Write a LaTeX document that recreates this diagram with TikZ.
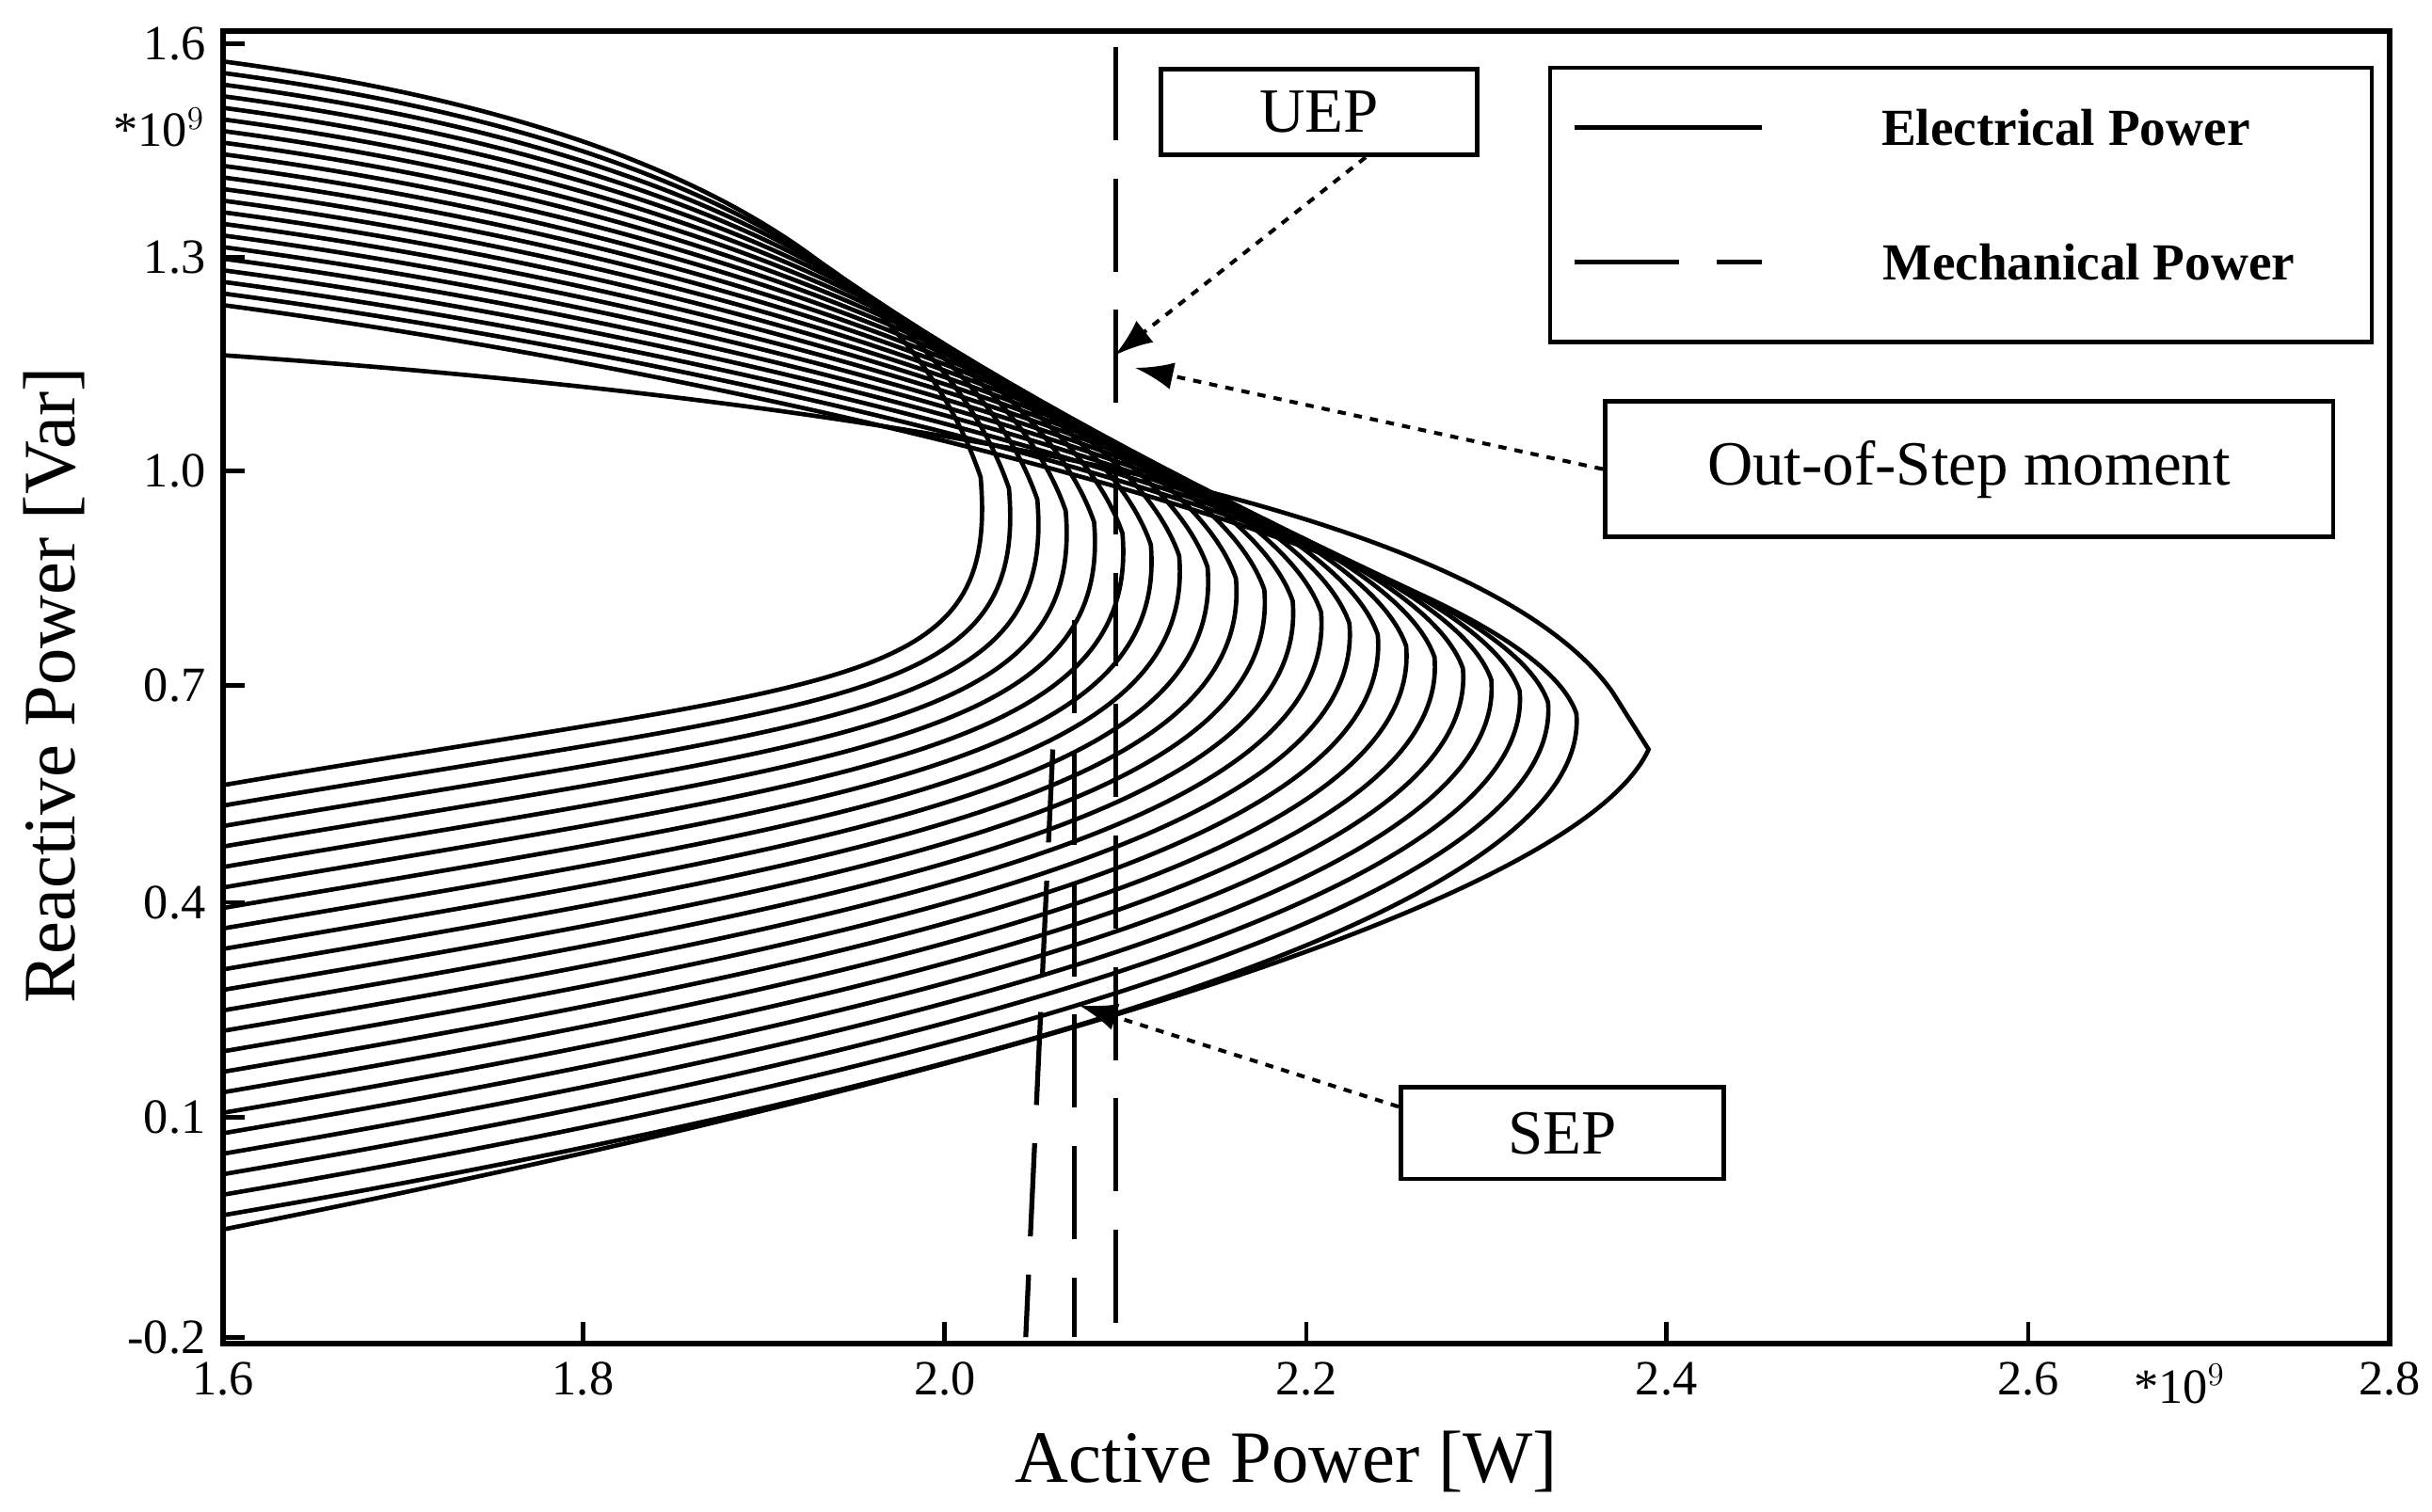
\documentclass[tikz,border=0pt]{standalone}
\usepackage{fontspec}
\setmainfont{Liberation Serif}
\usetikzlibrary{arrows.meta}
\begin{document}
\begin{tikzpicture}[x=0.02cm,y=-0.02cm,
  curve/.style={line width=1.6pt},
  mech/.style={line width=1.8pt,dash pattern=on 34pt off 14pt},
  lbox/.style={draw,line width=1.6pt,fill=white,inner sep=0pt},
  tick/.style={font=\fontsize{18}{20}\selectfont},
  arr/.style={dashed,line width=1.4pt,-{Latex[length=14pt,width=10pt]}}]
\useasboundingbox (0,0) rectangle (1560,970);
% data curves
\begin{scope}[shift={(-1710.3,766)},x=23.166cm,y=9.2cm]
\clip (1.6,-0.2) rectangle (2.8,1.6);
\foreach \i in {0,...,21}{
  \pgfmathsetmacro\t{\i/21}
  \pgfmathsetmacro\qu{1.58-0.34*\t}
  \pgfmathsetmacro\pt{2.02+0.33*\t}
  \pgfmathsetmacro\qt{1.0-0.33*\t}
  \pgfmathsetmacro\ql{0.57-0.6*\t}
  \draw[curve] (1.6,\qu) .. controls (1.9,\qu-0.1) and (\pt-0.03,\qt+0.22) .. (\pt,\qt)
     .. controls (\pt+0.01,\qt-0.3) and (1.95,\ql+0.15) .. (1.6,\ql);
}
\draw[curve] (1.6,1.17) .. controls (2.0,1.1) and (2.3,0.95) .. (2.37,0.7)
  -- (2.39,0.62) .. controls (2.35,0.4) and (2.0,0.15) .. (1.6,-0.05);
% mechanical power
\draw[mech] (2.095,1.6) -- (2.095,-0.2);
\draw[mech] (2.072,0.8) -- (2.072,-0.2);
\draw[mech] (2.06,0.62) -- (2.045,-0.2);
\end{scope}
% axes
\draw[line width=2pt] (143,20) rectangle (1533,862);
\foreach \px/\l in {143/1.6,374/1.8,606/2.0,838/2.2,1069/2.4,1301/2.6,1533/2.8}{
  \draw[line width=1.6pt] (\px,862) -- (\px,848);
  \node[tick,anchor=north] at (\px,868) {\l};}
\foreach \py/\l in {858/-0.2,717/0.1,579/0.4,440/0.7,302/1.0,165/1.3,28/1.6}{
  \draw[line width=1.6pt] (143,\py) -- (157,\py);
  \node[tick,anchor=east] at (138,\py) {\l};}
\node[tick] (ey) at (102,82) {*10$^9$};
\node[tick] (ex) at (1398,888) {*10$^9$};
\node[font=\fontsize{27}{30}\selectfont] (xl) at (825,938) {Active Power [W]};
\node[font=\fontsize{27}{30}\selectfont,rotate=90] (yl) at (35,440) {Reactive Power [Var]};
% legend
\node[lbox,minimum width=527*0.02cm,minimum height=176*0.02cm,anchor=north west] (leg) at (993,42) {};
\coordinate (l1a) at (1010,82); \coordinate (l1b) at (1130,82);
\draw[line width=1.8pt] (l1a) -- (l1b);
\node[font=\bfseries\fontsize{19}{21}\selectfont] (t1) at (1325,82) {Electrical Power};
\coordinate (l2a) at (1010,168); \coordinate (l2b) at (1130,168);
\draw[line width=1.8pt,dash pattern=on 38pt off 14pt] (l2a) -- (l2b);
\node[font=\bfseries\fontsize{19}{21}\selectfont] (t2) at (1340,168) {Mechanical Power};
% annotation boxes
\node[lbox,minimum width=203*0.02cm,minimum height=55*0.02cm,font=\fontsize{23}{26}\selectfont] (uep) at (846,72) {UEP};
\node[lbox,minimum width=467*0.02cm,minimum height=87*0.02cm,font=\fontsize{23}{26}\selectfont] (oos) at (1263,301) {Out-of-Step moment};
\node[lbox,minimum width=207*0.02cm,minimum height=59*0.02cm,font=\fontsize{23}{26}\selectfont] (sep) at (1002,727) {SEP};
\coordinate (pu) at (715,228);
\coordinate (po) at (728,236);
\coordinate (ps) at (692,645);
\draw[arr] (uep.south) ++(30,0) -- (pu);
\draw[arr] (oos.west) -- (po);
\draw[arr] (sep.north west) ++(0,14) -- (ps);
\end{tikzpicture}
\end{document}
